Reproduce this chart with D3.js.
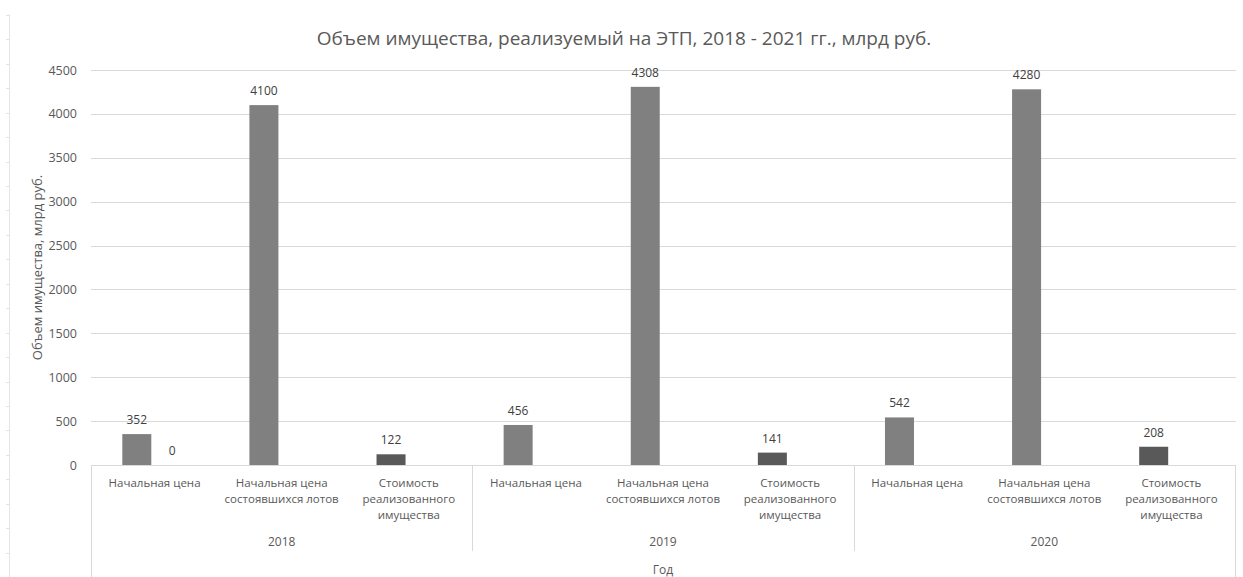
<!DOCTYPE html>
<html>
<head>
<meta charset="utf-8">
<script src="https://cdn.jsdelivr.net/npm/d3@7"></script>
<style>
  html, body { margin: 0; padding: 0; background: #fff; }
  svg text { font-family: "Open Sans", "Liberation Sans", sans-serif; }
</style>
</head>
<body>
<svg id="chart" width="1243" height="577"></svg>
<script>
// Years (outer axis level) and the three measures shown for each year (inner level)
const years = ["2018", "2019", "2020"];
const measures = ["Начальная цена", "Начальная цена состоявшихся лотов", "Стоимость реализованного имущества"];
const measureLines = [
  ["Начальная цена"],
  ["Начальная цена", "состоявшихся лотов"],
  ["Стоимость", "реализованного", "имущества"]
];
// Series values, one per (year, measure) in reading order, млрд руб.
const seriesMain = [352, 4100, 122, 456, 4308, 141, 542, 4280, 208];
const seriesExtra = [0, null, null, null, null, null, null, null, null];
const yTicks = [0, 500, 1000, 1500, 2000, 2500, 3000, 3500, 4000, 4500];

const titleText = "Объем имущества, реализуемый на ЭТП, 2018 - 2021 гг., млрд руб.";
const yTitle = "Объем имущества, млрд руб.";
const xTitle = "Год";

const svg = d3.select("#chart");
const W = 1243, H = 577;
const plot = { left: 91, right: 1235, top: 70, bottom: 465 };

// flat category list: one entry per (year, measure)
const cats = [];
years.forEach((yr, yi) => measures.forEach((m, mi) => cats.push({ key: yr + "|" + m, year: yr, yi, mi })));

const x0 = d3.scaleBand().domain(cats.map(c => c.key)).range([plot.left, plot.right]).padding(0);
const bw = x0.bandwidth();
const x1 = d3.scaleBand().domain(["main", "extra"])
  .range([bw / 2 - 35.5, bw / 2 + 35.5]).paddingInner(0.183).paddingOuter(0.0915);
const y = d3.scaleLinear().domain([0, 4500]).range([plot.bottom, plot.top]);

const textCol = "#595959";

// faint ruler on the far left edge
const ruler = d3.scaleLinear().domain([0, 23]).range([15, 577]);
svg.append("line").attr("x1", 9.5).attr("x2", 9.5).attr("y1", 14).attr("y2", H)
  .attr("stroke", "#e4e4e4").attr("stroke-width", 1);
svg.append("g").selectAll("line").data(d3.range(0, 24)).join("line")
  .attr("x1", 6).attr("x2", 9.5)
  .attr("y1", d => Math.round(ruler(d)) + 0.5).attr("y2", d => Math.round(ruler(d)) + 0.5)
  .attr("stroke", "#e4e4e4");

// gridlines
svg.append("g").selectAll("line").data(yTicks.filter(t => t > 0)).join("line")
  .attr("x1", plot.left).attr("x2", plot.right + 1)
  .attr("y1", d => Math.round(y(d)) + 0.5).attr("y2", d => Math.round(y(d)) + 0.5)
  .attr("stroke", "#d9d9d9").attr("stroke-width", 1);

// y axis tick labels
const yAxis = d3.axisLeft(y).tickValues(yTicks).tickSize(0).tickPadding(0).tickFormat(d3.format("d"));
const gy = svg.append("g").attr("transform", `translate(${plot.left - 14},0)`).call(yAxis);
gy.select(".domain").remove();
gy.selectAll("text").attr("fill", textCol).attr("font-size", 12.5)
  .attr("font-family", "Open Sans, sans-serif");

// category axis frame: baseline, outer borders and year separators
const frame = svg.append("g").attr("stroke", "#d9d9d9").attr("stroke-width", 1);
frame.append("line").attr("x1", plot.left).attr("x2", plot.right + 1)
  .attr("y1", plot.bottom + 0.5).attr("y2", plot.bottom + 0.5);
frame.append("line").attr("x1", plot.left + 0.5).attr("x2", plot.left + 0.5)
  .attr("y1", plot.bottom).attr("y2", H);
frame.append("line").attr("x1", plot.right + 0.5).attr("x2", plot.right + 0.5)
  .attr("y1", plot.bottom).attr("y2", H);
frame.selectAll(".sep").data(years.slice(1)).join("line").attr("class", "sep")
  .attr("x1", d => Math.round(x0(d + "|" + measures[0])) + 0.5)
  .attr("x2", d => Math.round(x0(d + "|" + measures[0])) + 0.5)
  .attr("y1", plot.bottom).attr("y2", 551);

// bars
const barColour = mi => (mi === 2 ? "#595959" : "#808080");
const bars = svg.append("g");
cats.forEach((c, i) => {
  [["main", seriesMain[i]], ["extra", seriesExtra[i]]].forEach(([s, v]) => {
    if (v === null) return;
    const bx = x0(c.key) + x1(s);
    bars.append("rect")
      .attr("x", bx).attr("width", x1.bandwidth())
      .attr("y", y(v)).attr("height", y(0) - y(v))
      .attr("fill", barColour(c.mi));
    bars.append("text")
      .attr("x", bx + x1.bandwidth() / 2).attr("y", y(v) - 10)
      .attr("text-anchor", "middle").attr("font-size", 12).attr("fill", "#404040")
      .text(v);
  });
});

// inner category labels
const catLabels = svg.append("g").attr("fill", textCol).attr("font-size", 11.5).attr("text-anchor", "middle");
cats.forEach(c => {
  measureLines[c.mi].forEach((ln, li) => {
    catLabels.append("text")
      .attr("x", x0(c.key) + bw / 2).attr("y", 487 + li * 16)
      .text(ln);
  });
});

// year labels
svg.append("g").attr("fill", textCol).attr("font-size", 12).attr("text-anchor", "middle")
  .selectAll("text").data(years).join("text")
  .attr("x", d => x0(d + "|" + measures[1]) + bw / 2).attr("y", 546)
  .text(d => d);

// axis titles
svg.append("text").attr("x", (plot.left + plot.right) / 2).attr("y", 574)
  .attr("text-anchor", "middle").attr("font-size", 12).attr("fill", textCol).text(xTitle);
svg.append("text").attr("transform", `translate(42,${(plot.top + plot.bottom) / 2}) rotate(-90)`)
  .attr("text-anchor", "middle").attr("font-size", 13).attr("fill", textCol).text(yTitle);

// chart title
svg.append("text").attr("x", 624).attr("y", 45)
  .attr("text-anchor", "middle").attr("font-size", 19).attr("fill", textCol).text(titleText);
</script>
</body>
</html>
